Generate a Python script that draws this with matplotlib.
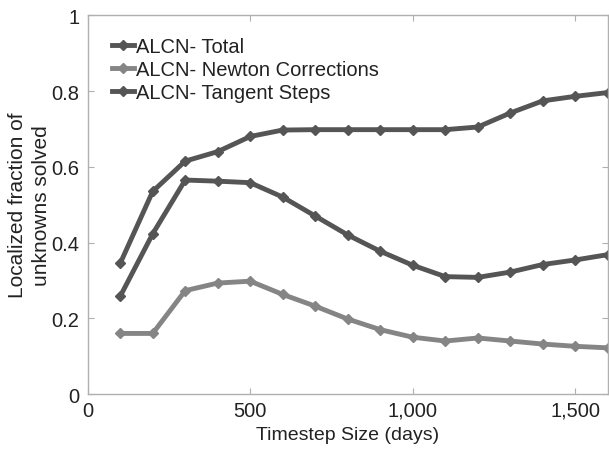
import matplotlib.pyplot as plt
from matplotlib.ticker import FuncFormatter

plt.rcParams['font.family'] = ['Liberation Sans', 'DejaVu Sans']

# Timestep sizes (days)
timestep = [100, 200, 300, 400, 500, 600, 700, 800, 900, 1000,
            1100, 1200, 1300, 1400, 1500, 1600]

# Localized fraction of unknowns solved
alcn_total = [0.345, 0.535, 0.615, 0.64, 0.68, 0.697, 0.698, 0.698, 0.698, 0.698,
              0.698, 0.705, 0.742, 0.774, 0.786, 0.796]
alcn_newton = [0.16, 0.16, 0.273, 0.293, 0.298, 0.263, 0.232, 0.198, 0.17, 0.15,
               0.14, 0.148, 0.14, 0.132, 0.126, 0.122]
alcn_tangent = [0.258, 0.423, 0.565, 0.562, 0.558, 0.52, 0.47, 0.42, 0.377, 0.34,
                0.31, 0.308, 0.322, 0.342, 0.354, 0.368]

dark = '#555555'
light = '#858585'

fig = plt.figure(figsize=(6.09, 4.52), dpi=100)
ax = fig.add_axes([0.144, 0.126, 0.854, 0.838])

ax.plot(timestep, alcn_total, color=dark, lw=3.5, marker='D', ms=5.5, label='ALCN- Total')
ax.plot(timestep, alcn_newton, color=light, lw=3.5, marker='D', ms=5.5, label='ALCN- Newton Corrections')
ax.plot(timestep, alcn_tangent, color=dark, lw=3.5, marker='D', ms=5.5, label='ALCN- Tangent Steps')

ax.set_xlim(0, 1600)
ax.set_ylim(0, 1)
ax.set_xticks([0, 500, 1000, 1500])
ax.set_yticks([0, 0.2, 0.4, 0.6, 0.8, 1])
ax.xaxis.set_major_formatter(FuncFormatter(lambda v, p: f'{int(v):,}'))
ax.yaxis.set_major_formatter(FuncFormatter(lambda v, p: '0' if v == 0 else ('1' if v == 1 else f'{v:.1f}')))

for s in ax.spines.values():
    s.set_color('#b0b0b0')
    s.set_linewidth(1)
ax.tick_params(direction='in', length=4, color='#b0b0b0', labelsize=14.5,
               top=True, right=True, labelcolor='#222222')
ax.tick_params(axis='x', pad=5)
ax.tick_params(axis='y', pad=6)

ax.set_xlabel('Timestep Size (days)', fontsize=14, color='#222222', labelpad=4)
ax.set_ylabel('Localized fraction of\nunknowns solved', fontsize=15, color='#222222',
              labelpad=0.5, linespacing=1.3)

ax.legend(loc='upper left', frameon=False, fontsize=14.5, handlelength=1.1,
          handletextpad=0.1, labelspacing=0.2, borderaxespad=0.3,
          bbox_to_anchor=(0.02, 0.98), labelcolor='#222222')

fig.savefig('out.png', dpi=100)
